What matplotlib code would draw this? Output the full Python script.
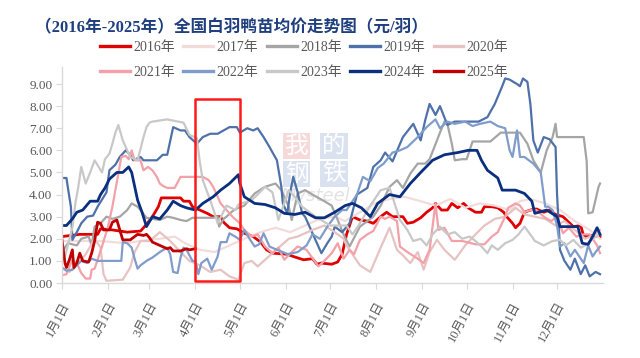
import matplotlib
matplotlib.use("Agg")
import matplotlib.pyplot as plt
from matplotlib.patches import Rectangle

# 数据：横轴为一年中的第几天（1月1日=0），纵轴为鸭苗均价（元/羽）
days_2016 = [0, 12, 24, 26, 34, 44, 53, 57, 61, 65, 67, 80, 82, 86, 88, 93, 98, 102, 107, 109, 113, 118, 123, 129,
             134, 138, 142, 152, 156, 163, 169, 172, 175, 182, 186, 189, 192, 196, 201, 206, 210, 215, 219, 223, 230,
             233, 237, 242, 246, 250, 252, 256, 260, 263, 267, 271, 274, 279, 283, 285, 290, 294, 298, 300, 304, 306,
             309, 312, 316, 320, 325, 329, 333, 338, 345, 350, 352, 358, 363]
vals_2016 = [2.1, 2.2, 2.2, 2.45, 2.4, 2.3, 2.35, 2.65, 3.0, 3.45, 3.85, 3.85, 3.7, 3.7, 3.45, 3.3, 3.15, 3.0, 3.0, 2.75,
             2.5, 2.45, 2.25, 2.1, 1.85, 1.5, 1.35, 1.3, 1.2, 1.05, 1.1, 0.85, 0.9, 0.85, 0.95, 1.3, 2.2, 3.0, 2.85, 2.8,
             2.7, 3.0, 3.2, 3.0, 3.0, 2.7, 2.75, 2.95, 3.2, 3.4, 3.6, 3.3, 3.3, 3.6, 3.4, 3.6, 3.4, 3.2, 3.2, 3.45, 3.45,
             3.4, 3.2, 3.0, 2.7, 2.5, 2.7, 3.2, 3.3, 3.35, 3.2, 3.3, 3.1, 3.0, 2.55, 2.6, 2.1, 2.15, 2.1]

days_2017 = [0, 26, 43, 53, 66, 76, 83, 93, 103, 113, 123, 134, 144, 154, 164, 174, 184, 191, 201, 211, 221, 231, 242,
             252, 262, 272, 282, 292, 302, 309, 316, 326, 336, 346, 356, 363]
vals_2017 = [1.9, 1.9, 1.8, 1.9, 2.0, 2.1, 1.8, 1.5, 1.4, 1.7, 2.0, 2.3, 2.5, 2.3, 2.6, 2.9, 3.0, 2.8, 3.2, 3.6, 3.8,
             3.9, 3.7, 3.5, 3.8, 3.4, 3.6, 3.5, 3.3, 3.7, 3.8, 3.6, 3.3, 2.8, 2.4, 2.0]

days_2018 = [0, 4, 10, 13, 18, 20, 22, 26, 30, 34, 39, 44, 47, 51, 53, 57, 61, 66, 71, 75, 80, 84, 88, 93, 102, 105,
             106, 109, 111, 115, 119, 123, 130, 137, 144, 148, 153, 155, 159, 164, 169, 173, 177, 182, 186, 190, 194,
             201, 206, 210, 215, 221, 226, 230, 235, 240, 245, 248, 253, 255, 258, 260, 263, 265, 270, 273, 277, 283,
             289, 296, 303, 309, 314, 318, 323, 327, 331, 333, 334, 338, 352, 354, 355, 358, 362, 363]
vals_2018 = [1.4, 1.8, 1.7, 2.0, 2.1, 1.7, 2.55, 2.7, 3.0, 2.9, 3.0, 3.3, 3.6, 3.45, 3.3, 2.95, 2.9, 2.85, 3.0, 2.95,
             2.85, 2.8, 2.95, 2.95, 2.95, 3.0, 2.55, 2.9, 3.0, 3.25, 3.4, 3.5, 4.05, 4.35, 4.5, 4.2, 3.45, 2.85, 4.05,
             4.2, 4.0, 3.85, 3.7, 3.5, 2.85, 2.2, 1.65, 2.55, 2.8, 3.0, 3.5, 4.35, 4.65, 4.3, 4.95, 5.4, 5.4, 5.6,
             6.45, 6.8, 7.3, 7.2, 6.3, 5.55, 5.6, 5.6, 6.4, 6.4, 6.4, 6.8, 6.8, 6.8, 6.3, 5.55, 5.0, 6.0, 6.6, 7.2,
             6.6, 6.6, 6.6, 5.5, 3.15, 3.2, 4.35, 4.5]

days_2019 = [0, 3, 4, 6, 7, 10, 13, 17, 21, 24, 30, 32, 36, 39, 43, 46, 48, 53, 55, 64, 68, 71, 75, 80, 83, 86, 91,
             95, 100, 105, 109, 113, 118, 120, 125, 129, 132, 136, 140, 145, 148, 149, 152, 154, 156, 159, 162, 164,
             169, 173, 175, 179, 182, 184, 189, 194, 199, 206, 210, 215, 218, 223, 230, 237, 242, 245, 248, 252, 255,
             260, 265, 273, 281, 287, 292, 297, 299, 302, 307, 309, 311, 314, 316, 318, 321, 325, 329, 333, 334, 336,
             339, 343, 346, 350, 353, 356, 360, 363]
vals_2019 = [4.75, 4.75, 4.3, 3.45, 1.95, 2.3, 2.7, 3.0, 3.05, 3.45, 4.1, 5.1, 5.35, 5.7, 6.0, 5.8, 5.55, 5.7, 5.55,
             5.55, 5.8, 5.8, 7.05, 6.9, 6.9, 6.6, 6.3, 6.6, 6.75, 6.75, 6.9, 7.05, 7.05, 6.8, 7.0, 6.9, 7.0, 6.6,
             6.15, 5.55, 4.35, 3.6, 3.15, 4.1, 4.8, 4.1, 3.15, 3.0, 2.25, 1.65, 1.35, 1.8, 2.1, 2.55, 2.3, 2.7, 4.0,
             4.3, 5.25, 5.55, 5.9, 5.5, 6.6, 7.2, 6.45, 7.35, 8.1, 7.6, 8.0, 7.15, 7.3, 7.3, 7.3, 7.5, 8.1, 8.9, 9.25,
             9.2, 9.0, 8.9, 9.25, 9.1, 8.1, 6.45, 5.9, 6.6, 6.5, 6.15, 4.0, 1.5, 1.0, 0.6, 1.1, 0.4, 0.8, 0.3, 0.5,
             0.4]

days_2020 = [0, 5, 11, 16, 22, 26, 28, 30, 41, 46, 49, 53, 59, 66, 73, 80, 86, 93, 100, 107, 113, 119, 123, 128, 132,
             142, 153, 159, 169, 177, 184, 190, 192, 201, 208, 215, 221, 226, 230, 235, 240, 244, 248, 253, 258, 265,
             272, 279, 285, 292, 299, 306, 312, 319, 326, 333, 339, 346, 353, 360, 363]
vals_2020 = [0.7, 0.5, 0.9, 1.3, 2.0, 1.6, 0.4, 0.1, 0.15, 0.7, 1.4, 1.9, 1.9, 2.3, 1.9, 1.4, 1.0, 0.8, 0.5, 0.6, 0.3,
             0.15, 0.9, 1.0, 0.75, 1.35, 2.0, 2.1, 2.4, 2.6, 2.3, 2.0, 1.7, 0.8, 0.5, 1.6, 2.5, 1.5, 1.25, 0.9, 1.4,
             0.6, 1.4, 1.95, 1.5, 1.05, 1.7, 2.2, 2.6, 2.9, 3.0, 3.4, 3.1, 3.0, 2.9, 2.6, 2.8, 2.4, 2.0, 2.2, 2.4]

days_2021 = [0, 3, 7, 10, 13, 16, 19, 20, 22, 24, 27, 29, 31, 34, 36, 38, 40, 43, 45, 47, 49, 53, 55, 58, 61, 64, 66,
             68, 71, 76, 80, 88, 95, 99, 102, 105, 107, 111, 115, 120, 123, 128, 132, 137, 142, 146, 150, 155, 159,
             165, 173, 177, 182, 186, 190, 194, 197, 201, 206, 210, 215, 218, 221, 226, 228, 233, 240, 244, 248, 252,
             254, 258, 263, 270, 279, 285, 290, 294, 299, 301, 306, 309, 312, 316, 320, 325, 330, 334, 338, 342, 347,
             352, 356, 361, 363]
vals_2021 = [0.35, 0.4, 1.05, 0.9, 0.45, 0.2, 0.2, 0.6, 0.65, 1.05, 1.65, 2.1, 2.55, 3.45, 4.2, 4.95, 5.7, 5.75, 5.6,
             6.0, 5.55, 5.55, 5.1, 5.25, 5.1, 4.8, 4.5, 4.4, 4.3, 4.3, 4.8, 4.8, 4.8, 4.65, 4.35, 3.9, 3.6, 3.3, 3.0,
             2.7, 2.4, 2.1, 2.2, 1.65, 1.35, 1.6, 1.05, 1.4, 1.65, 1.5, 0.75, 1.0, 1.35, 1.8, 1.1, 1.5, 1.3, 1.95,
             2.2, 2.35, 3.0, 2.9, 3.0, 2.8, 1.65, 1.4, 1.1, 0.9, 1.5, 3.6, 2.4, 2.5, 1.9, 1.9, 1.75, 1.75, 2.1, 2.3,
             3.0, 3.4, 3.6, 3.5, 3.2, 3.3, 3.3, 3.0, 2.8, 3.0, 2.25, 2.5, 2.1, 2.2, 2.2, 1.7, 1.35]

days_2022 = [0, 3, 7, 10, 13, 17, 20, 24, 30, 37, 40, 41, 44, 47, 49, 51, 53, 57, 61, 66, 71, 73, 75, 78, 80, 82, 84,
             88, 90, 92, 94, 98, 101, 105, 107, 111, 113, 118, 120, 123, 127, 130, 133, 136, 140, 145, 149, 152, 159,
             165, 169, 174, 179, 184, 189, 192, 199, 203, 208, 213, 217, 223, 228, 233, 240, 246, 252, 255, 260, 265,
             272, 277, 282, 289, 294, 299, 302, 304, 307, 309, 312, 318, 323, 326, 328, 331, 334, 336, 339, 343, 346,
             352, 355, 358, 360, 363]
vals_2022 = [0.7, 0.55, 0.6, 0.8, 1.0, 0.9, 1.1, 1.0, 1.0, 1.0, 1.0, 1.85, 1.8, 1.6, 1.1, 0.65, 0.8, 1.0, 1.15, 1.4,
             1.6, 1.3, 0.5, 0.45, 1.15, 1.6, 1.5, 1.0, 1.0, 0.4, 0.9, 1.1, 0.6, 1.2, 1.85, 1.85, 2.25, 2.05, 1.95, 2.4,
             1.95, 1.65, 1.75, 2.25, 1.65, 1.5, 1.4, 1.3, 1.4, 1.7, 2.2, 2.0, 2.55, 3.0, 3.3, 3.3, 4.0, 4.8, 4.6, 5.2,
             5.4, 5.9, 6.0, 6.15, 6.6, 7.05, 7.4, 7.0, 7.3, 7.2, 7.3, 7.1, 7.2, 7.3, 7.1, 7.0, 6.0, 5.7, 6.9, 5.7, 5.7,
             5.4, 5.0, 3.45, 3.45, 3.3, 2.6, 1.65, 1.8, 1.2, 1.5, 0.9, 1.7, 1.2, 1.4, 1.65]

days_2023 = [0, 2, 7, 9, 11, 13, 16, 19, 22, 27, 29, 32, 34, 36, 38, 41, 46, 51, 55, 57, 59, 61, 71, 82, 86, 91, 93,
             95, 100, 103, 105, 111, 117, 119, 128, 132, 137, 142, 146, 153, 157, 162, 171, 181, 192, 196, 201, 208,
             215, 221, 228, 233, 237, 242, 246, 250, 255, 260, 265, 270, 275, 279, 283, 287, 290, 294, 299, 304, 308,
             312, 317, 319, 325, 331, 336, 340, 345, 350, 353, 358, 363]
vals_2023 = [1.0, 1.2, 2.5, 3.6, 4.35, 5.25, 4.5, 5.0, 5.55, 5.0, 5.6, 5.85, 6.3, 6.8, 7.15, 6.45, 5.7, 5.55, 6.6, 7.05,
             7.25, 7.3, 7.4, 7.25, 6.7, 6.55, 5.45, 4.65, 3.75, 3.15, 2.7, 3.5, 3.3, 3.55, 3.75, 4.0, 4.35, 4.1, 2.85,
             4.2, 3.9, 3.45, 3.0, 2.6, 2.6, 2.2, 2.7, 3.5, 4.2, 4.3, 2.85, 2.4, 1.9, 2.0, 1.7, 2.2, 2.55, 2.2, 2.3, 2.0,
             2.1, 1.9, 1.65, 1.35, 1.7, 1.5, 1.8, 1.95, 2.2, 2.55, 2.1, 1.9, 1.7, 1.9, 1.95, 1.7, 1.95, 1.6, 1.7, 2.0,
             2.2]

days_2024 = [0, 3, 7, 10, 14, 19, 24, 26, 29, 32, 37, 41, 45, 47, 51, 54, 57, 61, 66, 71, 75, 80, 84, 90, 95, 102,
             107, 113, 119, 120, 123, 130, 137, 144, 150, 157, 164, 171, 177, 184, 191, 196, 202, 208, 213, 221, 228,
             235, 242, 250, 258, 267, 274, 280, 283, 287, 294, 297, 306, 312, 317, 319, 327, 334, 336, 348, 351, 355,
             358, 361, 363]
vals_2024 = [2.6, 2.6, 2.9, 3.2, 3.3, 3.7, 3.7, 4.0, 4.3, 4.7, 5.0, 5.0, 5.25, 5.0, 3.75, 3.2, 2.55, 3.0, 2.9, 3.3,
             3.7, 3.5, 3.4, 3.3, 3.6, 3.9, 4.2, 4.5, 4.9, 4.5, 3.9, 3.6, 3.55, 3.4, 3.15, 3.1, 3.2, 2.95, 2.95, 3.2,
             3.5, 3.6, 3.4, 3.0, 3.6, 4.0, 3.9, 4.5, 5.0, 5.55, 5.8, 5.9, 6.0, 6.0, 5.55, 5.1, 4.75, 4.2, 4.2, 4.05,
             3.7, 3.15, 3.3, 3.0, 2.55, 2.55, 1.8, 1.75, 2.1, 2.5, 2.2]

days_2025 = [0, 2, 3, 5, 7, 8, 10, 12, 14, 18, 20, 22, 24, 26, 28, 32, 34, 37, 39, 41, 46, 49, 51, 55, 57, 59, 61, 66,
             71, 73, 75, 80, 84, 86, 90]
vals_2025 = [1.95, 0.9, 0.7, 1.05, 1.5, 0.7, 0.9, 1.35, 1.0, 0.95, 1.35, 1.9, 2.75, 2.7, 2.4, 2.4, 2.75, 2.85, 2.4,
             1.95, 1.95, 2.1, 2.2, 2.15, 2.2, 2.05, 1.85, 1.7, 1.55, 1.6, 1.45, 1.45, 1.55, 1.5, 1.55]

years = ["2016年", "2017年", "2018年", "2019年", "2020年", "2021年", "2022年", "2023年", "2024年", "2025年"]
series_days = [days_2016, days_2017, days_2018, days_2019, days_2020,
               days_2021, days_2022, days_2023, days_2024, days_2025]
series_vals = [vals_2016, vals_2017, vals_2018, vals_2019, vals_2020,
               vals_2021, vals_2022, vals_2023, vals_2024, vals_2025]
colors = ["#E00000", "#F2DCDB", "#A5A5A5", "#4F71AA", "#E6C3C2",
          "#F4A0A8", "#7F9CCB", "#C8C8C8", "#0A2F7E", "#C00000"]
widths = [2.0, 1.6, 1.6, 1.6, 1.6, 1.6, 1.6, 1.6, 2.0, 2.0]

month_days = [0, 31, 59, 90, 120, 151, 181, 212, 243, 273, 304, 334]
month_labels = ["1月1日", "2月1日", "3月1日", "4月1日", "5月1日", "6月1日",
                "7月1日", "8月1日", "9月1日", "10月1日", "11月1日", "12月1日"]
y_ticks = [0, 1, 2, 3, 4, 5, 6, 7, 8, 9]

# 红框标注的时段（4月1日-5月1日）
box_start, box_end = 90, 120

fonts = ["Liberation Serif", "Noto Sans CJK SC", "DejaVu Sans"]
plt.rcParams["font.family"] = fonts
grey = "#595959"

fig = plt.figure(figsize=(6.4, 3.58), dpi=100)
ax = fig.add_axes([62 / 640, 1 - 283 / 358, 541 / 640, 216 / 358])

# 水印
wm = [("我", 0.434, 0.634, "#F4C9CA"), ("的", 0.503, 0.634, "#CBD7EA"),
      ("钢", 0.434, 0.505, "#CBD7EA"), ("铁", 0.503, 0.505, "#CBD7EA")]
for ch, wx, wy, bg in wm:
    ax.text(wx, wy, ch, transform=ax.transAxes, ha="center", va="center", fontsize=17,
            color="white", family=["Noto Sans CJK SC"], zorder=0,
            bbox=dict(boxstyle="square,pad=0.08", fc=bg, ec="none", alpha=0.7))
ax.text(0.468, 0.405, "Mysteel", transform=ax.transAxes, ha="center", va="center", fontsize=13,
        color="#E3E3E3", style="italic", family=["DejaVu Sans"], zorder=0)

lines = []
for name, d, v, c, w in zip(years, series_days, series_vals, colors, widths):
    ln, = ax.plot(d, v, color=c, lw=w, label=name, solid_joinstyle="round")
    lines.append(ln)

ax.add_patch(Rectangle((box_start, 0.1), box_end - box_start, 8.2, fill=False,
                       ec="#FF1A1A", lw=1.8, joinstyle="round", zorder=5))

ax.set_xlim(0, 365)
ax.set_ylim(0, 9.77)
ax.set_yticks(y_ticks)
ax.set_yticklabels(["%.2f" % t for t in y_ticks], color=grey, fontsize=9.5)
ax.set_xticks(month_days)
ax.set_xticklabels(month_labels, rotation=62, ha="right", va="top",
                   rotation_mode="anchor", color=grey, fontsize=9)
ax.tick_params(axis="y", length=4, color="#D9D9D9", pad=3)
ax.tick_params(axis="x", length=4, color="#D9D9D9", pad=8)
for s in ["top", "right"]:
    ax.spines[s].set_visible(False)
for s in ["left", "bottom"]:
    ax.spines[s].set_color("#D9D9D9")
    ax.spines[s].set_linewidth(1.0)

# 图例：两行五列，按行排列
order = [0, 5, 1, 6, 2, 7, 3, 8, 4, 9]
leg = fig.legend([lines[i] for i in order], [years[i] for i in order], ncol=5,
                 loc="upper left", bbox_to_anchor=(100 / 640, 1 - 41 / 358),
                 frameon=False, fontsize=10, handlelength=2.15, handletextpad=0.25,
                 columnspacing=0.6, labelspacing=0.85, borderpad=0, borderaxespad=0)
for t in leg.get_texts():
    t.set_color(grey)
for h in leg.legend_handles:
    h.set_linewidth(2.4)

fig.text(35 / 640, 1 - 28 / 358, "（2016年-2025年）全国白羽鸭苗均价走势图（元/羽）",
         ha="left", va="center", fontsize=12, fontweight="bold", color="#1F3F7F")

fig.savefig("out.png", dpi=100)
